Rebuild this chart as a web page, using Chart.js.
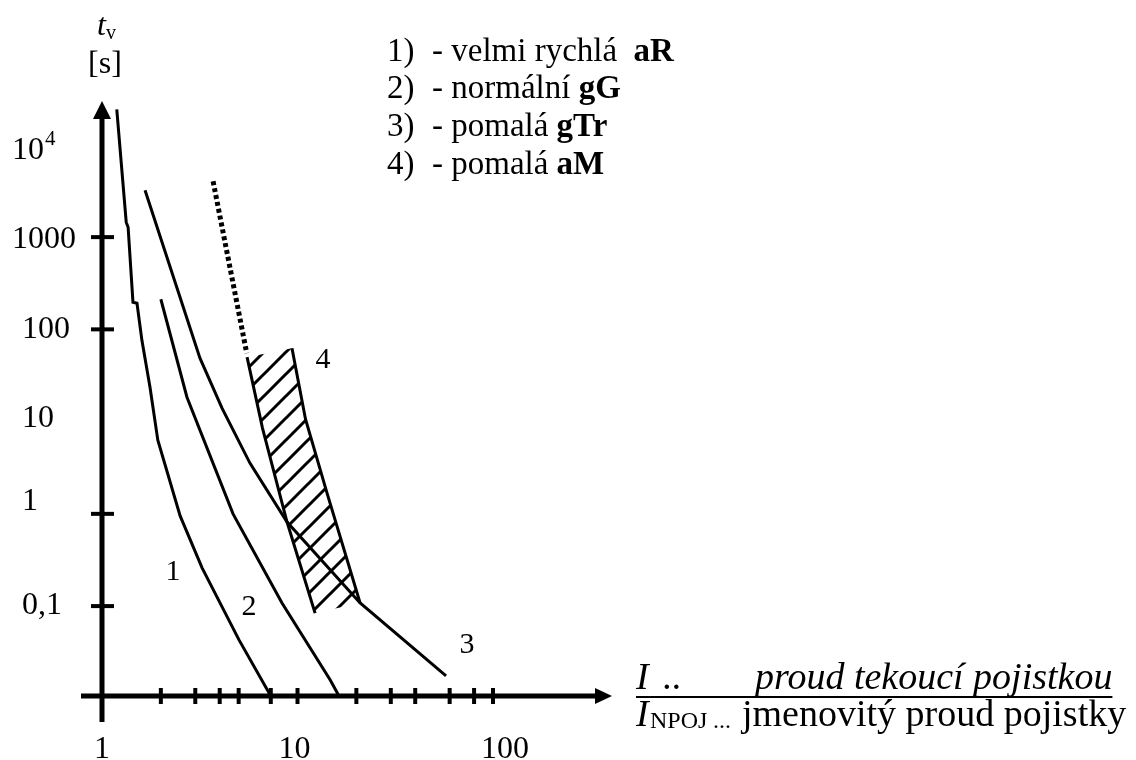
<!DOCTYPE html>
<html>
<head>
<meta charset="utf-8">
<script src="https://cdn.jsdelivr.net/npm/chart.js@4.4.1/dist/chart.umd.min.js"></script>
<style>
  html, body { margin: 0; padding: 0; background: #fff; }
  #wrap { width: 1136px; height: 760px; }
</style>
</head>
<body>
<div id="wrap"><canvas id="chart" width="1136" height="760"></canvas></div>
<script>
// tick marks drawn on the axes (I / INPOJ and t_v in s)
const xTicks = [2, 3, 4, 5, 7.3, 10, 20, 30, 40, 60, 80, 100];
const xLabels = ['1', '10', '100'];
const xLabelValues = [1, 10, 100];
const yTicks = [0.1, 1, 100, 1000];
const yLabels = ['0,1', '1', '10', '100', '1000', '10'];
const yLabelValues = [0.1, 1, 10, 100, 1000, 10000];

// 1) velmi rychla aR
const curve1I = [1.19, 1.33, 1.36, 1.44, 1.51, 1.60, 1.76, 1.93, 2.51, 3.25, 5.02, 7.3];
const curve1T = [24300, 1450, 1280, 197, 192, 76, 23.6, 6.3, 0.95, 0.26, 0.043, 0.0106];
// 2) normalni gG
const curve2I = [2.00, 2.72, 4.68, 8.33, 14.7, 16.3];
const curve2T = [212, 18.4, 1.0, 0.108, 0.0158, 0.0106];
// 3) pomala gTr
const curve3I = [1.66, 3.17, 4.11, 5.71, 8.84, 20.9, 57.5];
const curve3T = [3220, 48.8, 14.0, 3.55, 0.815, 0.108, 0.0175];
// 4) pomala aM - teckovana cast a hranice srafovaneho pasu
const curve4DotI = [3.70, 5.50];
const curve4DotT = [4030, 55];
const band4LeftI = [5.52, 6.62, 8.84, 12.3];
const band4LeftT = [50, 8.5, 0.815, 0.084];
const band4RightI = [9.37, 10.99, 14.16, 20.9];
const band4RightT = [62.5, 10.6, 1.68, 0.108];

// popisky krivek
const curveNames = ['1', '2', '3', '4'];
const curveNameI = [2.31, 5.65, 73.6, 13.5];
const curveNameT = [0.234, 0.098, 0.0379, 46.4];

const legendNums = ['1)', '2)', '3)', '4)'];
const legendTexts = ['- velmi rychlá  ', '- normální ', '- pomalá ', '- pomalá '];
const legendBold = ['aR', 'gG', 'gTr', 'aM'];

const serif = '"Liberation Serif", "Times New Roman", serif';

function pts(xs, ys) {
    return xs.map((x, i) => ({ x: x, y: ys[i] }));
}

//vzor srafovani pro pas 4
function hatchPattern() {
    let s = 22;
    let c = document.createElement('canvas');
    c.width = s; c.height = s;
    let g = c.getContext('2d');
    g.strokeStyle = '#000';
    g.lineWidth = 3;
    g.beginPath();
    g.moveTo(-2, s + 2); g.lineTo(s + 2, -2);
    g.moveTo(-s / 2 - 2, s / 2 + 2); g.lineTo(s / 2 + 2, -s / 2 - 2);
    g.moveTo(s / 2 - 2, s * 1.5 + 2); g.lineTo(s * 1.5 + 2, s / 2 - 2);
    g.stroke();
    return document.getElementById('chart').getContext('2d').createPattern(c, 'repeat');
}

function line(data, extra) {
    return Object.assign({
        data: data,
        borderColor: '#000',
        borderWidth: 3,
        pointRadius: 0,
        tension: 0,
        fill: false,
        clip: false
    }, extra || {});
}

const bandShape = pts(band4LeftI, band4LeftT).concat(pts(band4RightI, band4RightT).reverse());

//kresli osy, znacky a texty
const sketchAxes = {
    id: 'sketchAxes',
    afterDatasetsDraw(chart) {
        const ctx = chart.ctx;
        const xs = chart.scales.x, ys = chart.scales.y;
        const x0 = xs.getPixelForValue(1);
        const y0 = ys.bottom;
        ctx.save();
        ctx.fillStyle = '#000';
        ctx.strokeStyle = '#000';
        ctx.lineCap = 'butt';

        // osa x
        ctx.lineWidth = 5;
        ctx.beginPath();
        ctx.moveTo(81, y0);
        ctx.lineTo(xs.right - 14, y0);
        ctx.stroke();
        ctx.beginPath();
        ctx.moveTo(xs.right, y0);
        ctx.lineTo(xs.right - 17, y0 - 8);
        ctx.lineTo(xs.right - 17, y0 + 8);
        ctx.closePath();
        ctx.fill();
        // osa y
        ctx.beginPath();
        ctx.moveTo(x0, 722);
        ctx.lineTo(x0, ys.top + 14);
        ctx.stroke();
        ctx.beginPath();
        ctx.moveTo(x0, ys.top);
        ctx.lineTo(x0 - 9, ys.top + 18);
        ctx.lineTo(x0 + 9, ys.top + 18);
        ctx.closePath();
        ctx.fill();

        // znacky
        ctx.lineWidth = 4;
        xTicks.forEach(v => {
            let px = xs.getPixelForValue(v);
            ctx.beginPath();
            ctx.moveTo(px, y0 - 8);
            ctx.lineTo(px, y0 + 8);
            ctx.stroke();
        });
        yTicks.forEach(v => {
            let py = ys.getPixelForValue(v);
            ctx.beginPath();
            ctx.moveTo(x0 - 11, py);
            ctx.lineTo(x0 + 12, py);
            ctx.stroke();
        });

        // popisky os
        ctx.textBaseline = 'middle';
        ctx.textAlign = 'center';
        ctx.font = '32px ' + serif;
        xLabelValues.forEach((v, i) => {
            let dx = i === 2 ? 12 : (i === 1 ? -3 : 0);
            ctx.fillText(xLabels[i], xs.getPixelForValue(v) + dx, 750);
        });
        ctx.textAlign = 'left';
        const yShift = [0, -12, -3, 0, 2, 6];
        yLabelValues.forEach((v, i) => {
            let py = ys.getPixelForValue(v) + yShift[i];
            let lx = v >= 1000 ? 12 : 22;
            ctx.font = '32px ' + serif;
            ctx.fillText(yLabels[i], lx, py);
            if (v === 10000) {
                let w = ctx.measureText(yLabels[i]).width;
                ctx.font = '21px ' + serif;
                ctx.fillText('4', lx + w + 1, py - 11);
            }
        });

        // t_v [s]
        ctx.font = 'italic 32px ' + serif;
        ctx.fillText('t', 97, 27);
        ctx.font = '20px ' + serif;
        ctx.fillText('v', 106, 34);
        ctx.textAlign = 'center';
        ctx.font = '32px ' + serif;
        ctx.fillText('[s]', 105, 65);

        // cisla krivek
        ctx.font = '30px ' + serif;
        curveNames.forEach((n, i) => {
            ctx.fillText(n, xs.getPixelForValue(curveNameI[i]), ys.getPixelForValue(curveNameT[i]));
        });

        // legenda
        ctx.textAlign = 'left';
        legendNums.forEach((n, i) => {
            let ly = 52 + i * 37.7;
            ctx.font = '33px ' + serif;
            ctx.fillText(n, 387, ly);
            ctx.fillText(legendTexts[i], 432, ly);
            let w = ctx.measureText(legendTexts[i]).width;
            ctx.font = 'bold 33px ' + serif;
            ctx.fillText(legendBold[i], 432 + w, ly);
        });

        // popis osy x
        ctx.font = 'italic 38px ' + serif;
        ctx.fillText('I', 636, 679);
        ctx.fillText('..', 663, 679);
        ctx.fillText('proud tekoucí pojistkou', 755, 679);
        let endX = 755 + ctx.measureText('proud tekoucí pojistkou').width;
        ctx.lineWidth = 2;
        ctx.beginPath();
        ctx.moveTo(636, 697);
        ctx.lineTo(endX, 697);
        ctx.stroke();
        ctx.fillText('I', 636, 716);
        ctx.font = '24px ' + serif;
        ctx.fillText('NPOJ', 650, 722);
        ctx.fillText('...', 713, 722);
        ctx.font = '38px ' + serif;
        ctx.fillText('jmenovitý proud pojistky', 742, 716);
        ctx.restore();
    }
};

const chart = new Chart(document.getElementById('chart'), {
    type: 'line',
    data: {
        datasets: [
            line(bandShape, { borderWidth: 0, fill: 'shape', backgroundColor: hatchPattern() }),
            line(pts(curve1I, curve1T)),
            line(pts(curve2I, curve2T)),
            line(pts(curve3I, curve3T)),
            line(pts(curve4DotI, curve4DotT), { borderWidth: 5, borderDash: [4, 3] }),
            line(pts(band4LeftI, band4LeftT)),
            line(pts(band4RightI, band4RightT))
        ]
    },
    options: {
        responsive: false,
        devicePixelRatio: 1,
        animation: false,
        layout: { padding: { left: 102, right: 524, top: 101, bottom: 64 } },
        plugins: { legend: { display: false }, tooltip: { enabled: false } },
        scales: {
            x: { type: 'logarithmic', min: 1, max: 406, display: false },
            y: { type: 'logarithmic', min: 0.0106, max: 29900, display: false }
        }
    },
    plugins: [sketchAxes]
});
</script>
</body>
</html>
